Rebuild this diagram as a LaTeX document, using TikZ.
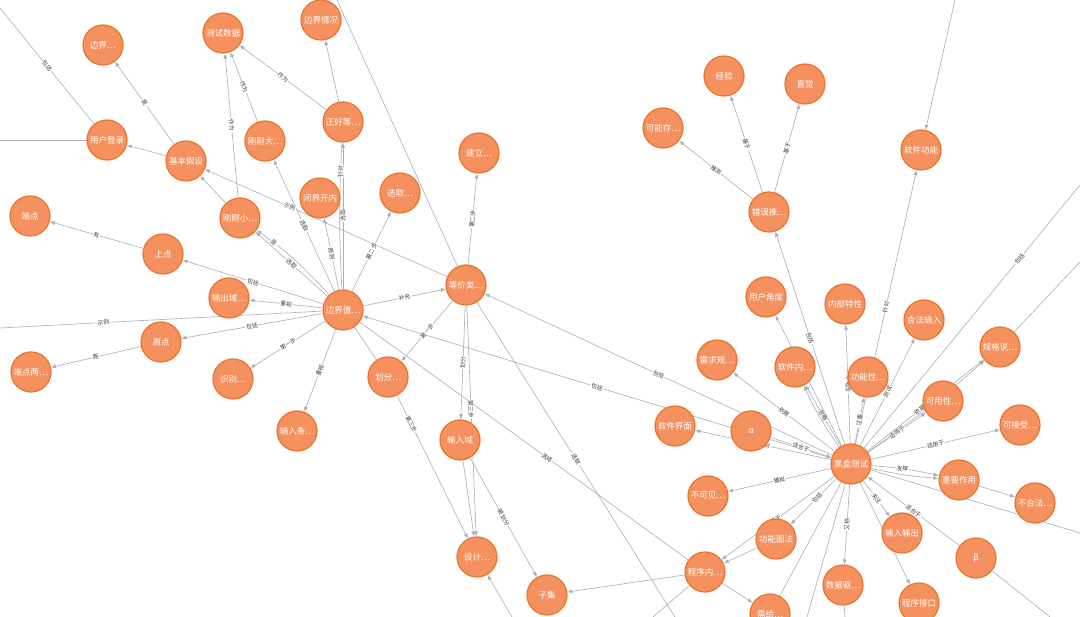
\documentclass[tikz,border=0pt]{standalone}
\usepackage{fontspec}
\newfontfamily\cjk{Noto Sans CJK SC}
\usetikzlibrary{arrows.meta,backgrounds}
\definecolor{nodefill}{HTML}{F5915F}
\definecolor{nodeline}{HTML}{E8742F}
\definecolor{edgecol}{HTML}{A9AFBA}

\begin{document}
\begin{tikzpicture}[ x=1pt, y=-1pt, >=Latex,
      concept/.style={circle, draw=nodeline, fill=nodefill, line width=1.2pt,
        minimum size=40pt, inner sep=0pt, text=white,
        font=\cjk\fontsize{8.5}{8.5}\selectfont},
      link/.style={draw=edgecol, line width=0.6pt},
      rel/.style={link, -{Latex[length=5pt,width=4pt]}},
      lbl/.style={sloped, fill=white, inner sep=0.6pt, text=black!75,
        font=\cjk\fontsize{5.8}{5.8}\selectfont} ]

      \useasboundingbox (0,0) rectangle (1080,617);

      % Left cluster
      \node[concept] (bj1) at (103,45) {边界…};
      \node[concept] (csdata) at (223,33) {测试数据};
      \node[concept] (bjqk) at (321,20) {边界情况};
      \node[concept] (login) at (107,140) {用户登录};
      \node[concept] (jbjs) at (186,161) {基本假设};
      \node[concept] (ggd) at (265,141) {刚刚大…};
      \node[concept] (zhd) at (343,122) {正好等…};
      \node[concept] (jianli) at (479,153) {建立…};
      \node[concept] (xuanqu) at (400,193) {选取…};
      \node[concept] (bjkn) at (320,198) {闭界开内};
      \node[concept] (ggx) at (240,218) {刚刚小…};
      \node[concept] (duandian) at (30,216) {端点};
      \node[concept] (shangdian) at (163,254) {上点};
      \node[concept] (outdom) at (229,298) {输出域…};
      \node[concept] (bjz) at (343,310) {边界值…};
      \node[concept] (djl) at (466,285) {等价类…};
      \node[concept] (lidian) at (161,342) {离点};
      \node[concept] (ddl) at (31,372) {端点两…};
      \node[concept] (shibie) at (233,379) {识别…};
      \node[concept] (huafen) at (388,377) {划分…};
      \node[concept] (inputcond) at (297,431) {输入条…};
      \node[concept] (indom) at (460,440) {输入域};
      \node[concept] (sheji) at (477,557) {设计…};
      \node[concept] (ziji) at (547,595) {子集};

      % Right cluster
      \node[concept] (jingyan) at (724,76) {经验};
      \node[concept] (zhijue) at (805,84) {直觉};
      \node[concept] (kenc) at (663,128) {可能存…};
      \node[concept] (cwtc) at (769,212) {错误推…};
      \node[concept] (rjgn) at (921,150) {软件功能};
      \node[concept] (yhjd) at (766,297) {用户角度};
      \node[concept] (nbtx) at (845,304) {内部特性};
      \node[concept] (hfsr) at (924,320) {合法输入};
      \node[concept] (xqgf) at (717,360) {需求规…};
      \node[concept] (rjn) at (795,367) {软件内…};
      \node[concept] (gnx) at (868,377) {功能性…};
      \node[concept] (ggsm) at (1000,347) {规格说…};
      \node[concept] (kyx) at (943,401) {可用性…};
      \node[concept] (kjs) at (1020,425) {可接受…};
      \node[concept] (rjjm) at (675,426) {软件界面};
      \node[concept] (alpha) at (751,431) {α};
      \node[concept] (hhcs) at (851,464) {黑盒测试};
      \node[concept] (zyzy) at (959,480) {重要作用};
      \node[concept] (bhf) at (1035,503) {不合法…};
      \node[concept] (bkj) at (708,496) {不可见…};
      \node[concept] (gntf) at (776,539) {功能图法};
      \node[concept] (srsc) at (902,533) {输入输出};
      \node[concept] (beta) at (976,558) {β};
      \node[concept] (cxn) at (705,572) {程序内…};
      \node[concept] (sjqd) at (843,585) {数据驱…};
      \node[concept] (cxjk) at (919,603) {程序接口};
      \node[concept] (xg) at (770,614) {需给…};

      % Free ends at the page edge
      \coordinate (offTL) at (0,8);
      \coordinate (offL) at (0,140);
      \coordinate (offL2) at (0,328);
      \coordinate (offT) at (337,0);
      \coordinate (offT2) at (955,0);
      \coordinate (offTR1) at (1080,185);
      \coordinate (offTR2) at (1080,262);
      \coordinate (offR) at (1080,533);
      \coordinate (offB1) at (675,617);
      \coordinate (offB2) at (512,617);
      \coordinate (offB4) at (1050,617);
      \coordinate (offB5) at (807,617);
      \coordinate (offB6) at (653,617);
      \coordinate (offB7) at (845,617);

      \begin{pgfonlayer}{background}
        \fill[white] (0,0) rectangle (1080,617);

        % Labelled relations
        \foreach \a/\b/\t in {jbjs/bj1/是, ggx/csdata/作为, ggd/csdata/作为,
          zhd/csdata/作为, bjz/zhd/选取, bjz/bjkn/原则, bjz/ggd/选取,
          bjz/ggx/选取, bjz/shangdian/包括, shangdian/duandian/有,
          bjz/outdom/重视, bjz/lidian/包括, lidian/ddl/距, bjz/shibie/第一步,
          bjz/inputcond/重视, bjz/xuanqu/第二步, bjz/djl/补充,
          djl/huafen/第一步, djl/indom/划分, indom/ziji/被划分,
          djl/jianli/第二步, hhcs/djl/包括, hhcs/bjz/包括,
          cwtc/jingyan/基于, cwtc/zhijue/基于, cwtc/kenc/推测,
          hhcs/cwtc/包括, hhcs/rjgn/针对, hhcs/kyx/适用于, hhcs/hfsr/测试,
          hhcs/nbtx/不考虑, hhcs/gnx/注重, hhcs/rjn/忽略, hhcs/xqgf/依据,
          alpha/hhcs/适合于, hhcs/bkj/模拟, hhcs/srsc/关注, beta/hhcs/适合于,
          hhcs/sjqd/又称, hhcs/kjs/适用于}
          \draw[rel] (\a) -- node[lbl] {\t} (\b);

        % Labels off the middle
        \draw[rel] (bjz) to[bend right=6] node[lbl, pos=0.8] {是} (ggx);
        \draw[link] (bjz) to[bend left=3] node[lbl, pos=0.82] {针对} (zhd);
        \draw[rel] (djl) -- node[lbl, pos=0.65] {示例} (jbjs);
        \draw[link] (bjz) -- node[lbl, pos=0.68] {示例} (offL2);
        \draw[rel] (huafen) -- node[lbl, pos=0.2] {第三步} (sheji);
        \draw[rel] (djl) -- node[lbl, pos=0.45] {第三步} (sheji);
        \draw[link] (djl) -- node[lbl] {选取} (offB1);
        \draw[link] (bjz) -- node[lbl, pos=0.57] {选择} (cxn);
        \draw[link] (login) -- node[lbl] {包括} (offTL);
        \draw[link] (hhcs) -- node[lbl, pos=0.72] {包括} (offTR1);
        \draw[rel] (hhcs) -- node[lbl, pos=0.45] {依据} (ggsm);
        \draw[rel] (hhcs) -- node[lbl, pos=0.47] {对} (rjjm);
        \draw[rel] (hhcs) to[bend left=4] node[lbl, pos=0.45] {发挥} (zyzy);
        \draw[rel] (hhcs) -- node[lbl, pos=0.42] {包括} (gntf);
        \draw[rel] (hhcs) -- node[lbl, pos=0.52] {基于} (cxn);

        % Plain relations
        \foreach \a/\b in {jbjs/login, zhd/bjqk, ggx/jbjs, indom/sheji,
          offB2/sheji, cxn/ziji, offT2/rjgn, hhcs/yhjd, zyzy/bhf, hhcs/cxjk,
          gntf/cxn, cxn/xg}
          \draw[rel] (\a) -- (\b);
        \draw[rel] (hhcs) to[bend left=5] (rjn);
        \draw[rel] (hhcs) to[bend right=3] (ggsm);
        \draw[rel] (hhcs) to[bend right=4] (zyzy);

        % Plain lines
        \foreach \a/\b in {login/offL, djl/offT, bjz/huafen, ggsm/offTR2,
          hhcs/offR, beta/offB4, hhcs/xg, hhcs/offB5, cxn/offB6, sjqd/offB7}
          \draw[link] (\a) -- (\b);
      \end{pgfonlayer}
    \end{tikzpicture}
\end{document}
